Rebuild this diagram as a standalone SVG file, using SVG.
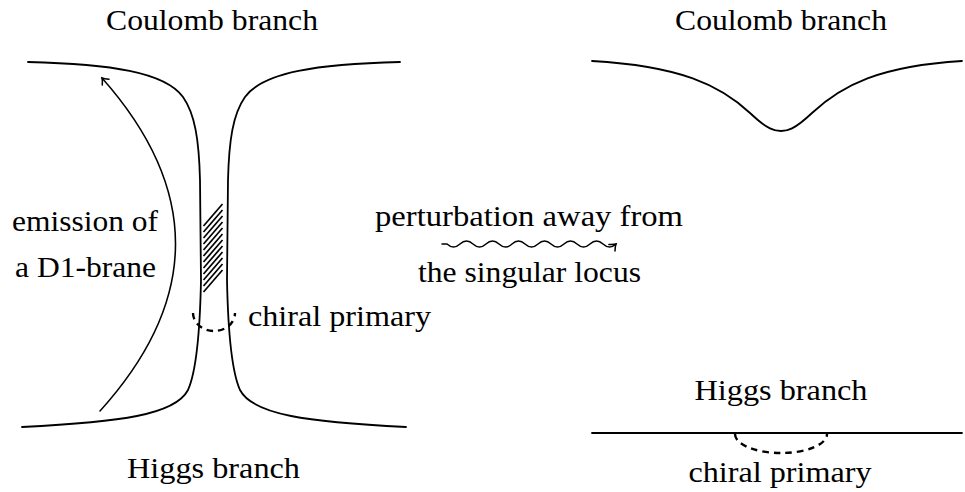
<svg xmlns="http://www.w3.org/2000/svg" width="965" height="492" viewBox="0 0 965 492">
  <defs>
    <style>
      .ln { fill: none; stroke: #000; stroke-width: 1.8; stroke-linecap: round; }
      .thin { fill: none; stroke: #000; stroke-width: 1.5; stroke-linecap: round; }
      .dash { fill: none; stroke: #000; stroke-width: 2.4; stroke-dasharray: 6.5 5; }
      .hatch { stroke: #000; stroke-width: 1.7; }
      .lbl { font-family: "Liberation Serif", "Times New Roman", serif; font-size: 29px; fill: #000; }
    </style>
    <marker id="arr" markerUnits="userSpaceOnUse" orient="auto" overflow="visible" refX="0" refY="0" markerWidth="12" markerHeight="12">
      <path d="M -5.5 -4.5 Q -2 -1 0 0 Q -2 1 -5.5 4.5" fill="none" stroke="#000" stroke-width="1.5" stroke-linecap="round"/>
    </marker>
  </defs>
  <rect width="965" height="492" fill="#fff"/>

  <g id="left-figure">
    <path class="ln" d="M 28 62 C 110 64, 165 72, 183 97 C 195 114, 199 140, 200 180 L 201 280 C 200 330, 197 370, 188 390 C 175 415, 120 422, 22 427"/>
    <path class="ln" d="M 400 62 C 318 64, 263 72, 245 97 C 233 114, 229 140, 228 180 L 227 280 C 228 330, 231 370, 240 390 C 253 415, 308 422, 406 427"/>
    <g id="hatch">
      <line class="hatch" x1="203.5" y1="226" x2="222.5" y2="204"/>
      <line class="hatch" x1="203.5" y1="232" x2="222.5" y2="210"/>
      <line class="hatch" x1="203.5" y1="238" x2="222.5" y2="216"/>
      <line class="hatch" x1="203.5" y1="244" x2="222.5" y2="222"/>
      <line class="hatch" x1="203.5" y1="250" x2="222.5" y2="228"/>
      <line class="hatch" x1="203.5" y1="256" x2="222.5" y2="234"/>
      <line class="hatch" x1="203.5" y1="262" x2="222.5" y2="240"/>
      <line class="hatch" x1="203.5" y1="268" x2="222.5" y2="246"/>
      <line class="hatch" x1="203.5" y1="274" x2="222.5" y2="252"/>
      <line class="hatch" x1="203.5" y1="280" x2="222.5" y2="258"/>
      <line class="hatch" x1="203.5" y1="286" x2="222.5" y2="264"/>
      <line class="hatch" x1="203.5" y1="292" x2="222.5" y2="270"/>
    </g>
    <path id="chiral-left" class="dash" d="M 193 313 A 21 18 0 0 0 235 313"/>
  </g>

  <g id="right-figure">
    <path class="ln" d="M 592 61 C 680 66, 720 85, 750 113 C 768 130, 775 131, 781 131 C 787 131, 794 130, 812 113 C 842 85, 880 66, 962 61"/>
    <line class="ln" x1="592" y1="433" x2="962" y2="433"/>
    <path id="chiral-right" class="dash" d="M 735 434 A 46 19 0 0 0 827 434"/>
  </g>

  <g id="connectors">
    <path id="emission-arrow" class="thin" d="M 100 411 Q 250 245, 102 78" marker-end="url(#arr)"/>
    <path id="perturbation-arrow" class="thin" marker-end="url(#arr)" d="M 442 244 L 447 244 Q 453.5 250, 460 244 Q 466.5 238, 473 244 Q 479.5 250, 486 244 Q 492.5 238, 499 244 Q 505.5 250, 512 244 Q 518.5 238, 525 244 Q 531.5 250, 538 244 Q 544.5 238, 551 244 Q 557.5 250, 564 244 Q 570.5 238, 577 244 Q 583.5 250, 590 244 Q 596.5 238, 603 244 Q 609.5 250, 616 244"/>
  </g>

  <g id="labels">
    <text class="lbl" x="212" y="30" text-anchor="middle" textLength="212" lengthAdjust="spacingAndGlyphs">Coulomb branch</text>
    <text class="lbl" x="781" y="30" text-anchor="middle" textLength="212" lengthAdjust="spacingAndGlyphs">Coulomb branch</text>
    <text class="lbl" x="85" y="231" text-anchor="middle" textLength="146" lengthAdjust="spacingAndGlyphs">emission of</text>
    <text class="lbl" x="85.5" y="277" text-anchor="middle" textLength="141" lengthAdjust="spacingAndGlyphs">a D1-brane</text>
    <text class="lbl" x="248" y="326" textLength="183" lengthAdjust="spacingAndGlyphs">chiral primary</text>
    <text class="lbl" x="529" y="226" text-anchor="middle" textLength="308" lengthAdjust="spacingAndGlyphs">perturbation away from</text>
    <text class="lbl" x="529.5" y="282" text-anchor="middle" textLength="223" lengthAdjust="spacingAndGlyphs">the singular locus</text>
    <text class="lbl" x="213.5" y="478" text-anchor="middle" textLength="173" lengthAdjust="spacingAndGlyphs">Higgs branch</text>
    <text class="lbl" x="781" y="400" text-anchor="middle" textLength="173" lengthAdjust="spacingAndGlyphs">Higgs branch</text>
    <text class="lbl" x="780" y="482" text-anchor="middle" textLength="183" lengthAdjust="spacingAndGlyphs">chiral primary</text>
  </g>
</svg>
